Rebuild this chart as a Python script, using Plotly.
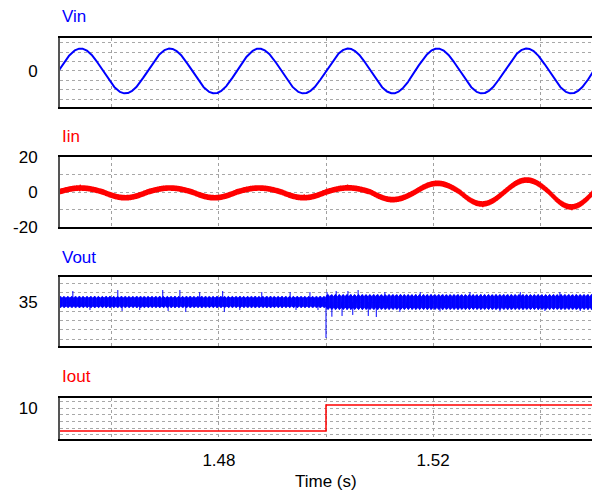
import numpy as np
import plotly.graph_objects as go
from plotly.subplots import make_subplots

# ---------------- data ----------------
T_START, T_END = 1.45, 1.55
T_RANGE = [1.4503, 1.5497]
X_GRID = [1.46, 1.48, 1.50, 1.52, 1.54]
X_LABELS = ["", "1.48", "", "1.52", ""]

LINE_FREQ = 60.0          # Hz
VIN_PEAK = 120.0          # V
# Iin peak value of each line half-cycle (A), read left to right
IIN_HALF_PEAKS = [2.3, -3.3, 2.3, -3.3, 2.3, -3.3, 2.4, -4.4, 5.0, -6.9, 6.9, -8.6]
IIN_RIPPLE = 1.6          # A, half of the switching-ripple band
SWITCH_FREQ = 20000.0     # Hz

VOUT_NOM = 35.0
VOUT_BAND = [0.6, 0.8]    # V, half band before / after the load step
VOUT_BEAT_FREQ = 1400.0   # Hz, visible striping of the ripple band
VOUT_BEAT_DEPTH = 0.25
STEP_TIME = 1.50
IOUT_LEVELS = [6.6, 10.5]

SPIKE_T = [1.4527, 1.4559, 1.4611, 1.4619, 1.4652, 1.4695, 1.4705, 1.4727, 1.4738,
           1.4764, 1.4807, 1.4810, 1.4839, 1.4880, 1.4933, 1.4944, 1.4970, 1.4985,
           1.5000, 1.5002, 1.5011, 1.5019, 1.5030, 1.5041, 1.5050, 1.5060, 1.5079,
           1.5094, 1.5110, 1.5138, 1.5176, 1.5213, 1.5269, 1.5325, 1.5363, 1.5409,
           1.5437, 1.5475]
SPIKE_V = [36.18, 34.14, 36.29, 34.04, 34.14, 36.29, 34.04, 36.29, 33.93,
           36.07, 36.18, 33.93, 34.14, 36.07, 36.07, 34.14, 36.07, 34.14,
           31.14, 36.07, 33.42, 36.18, 33.50, 36.18, 33.61, 36.29, 33.50,
           33.39, 36.07, 33.93, 36.07, 34.04, 36.07, 34.04, 36.07, 34.04,
           36.07, 34.04]

VIN_GRID = [-150, -100, -50, 0, 50, 100, 150]
VIN_TEXT = ["", "", "", "0", "", "", ""]
IIN_GRID = [-20, -10, 0, 10, 20]
IIN_TEXT = ["-20", "", "0", "", "20"]
VOUT_GRID = [31, 32, 33, 34, 35, 36, 37]
VOUT_TEXT = ["", "", "", "", "35", "", ""]
IOUT_GRID = [6, 7, 8, 9, 10, 11]
IOUT_TEXT = ["", "", "", "", "10", ""]

# ---------------- waveforms ----------------
t_line = np.linspace(T_START, T_END, 3001)
vin = VIN_PEAK * np.sin(2 * np.pi * LINE_FREQ * (t_line - T_START))

n_sw = int(round((T_END - T_START) * SWITCH_FREQ * 2))
t_sw = T_START + np.arange(n_sw + 1) / (2 * SWITCH_FREQ)
alt = np.where(np.arange(n_sw + 1) % 2 == 0, 1.0, -1.0)

half_idx = np.clip(((t_sw - T_START) * 2 * LINE_FREQ).astype(int), 0, len(IIN_HALF_PEAKS) - 1)
amp = np.array(IIN_HALF_PEAKS)[half_idx]
iin = amp * np.abs(np.sin(2 * np.pi * LINE_FREQ * (t_sw - T_START))) + IIN_RIPPLE * alt

band = np.where(t_sw < STEP_TIME, VOUT_BAND[0], VOUT_BAND[1])
beat = 1 - VOUT_BEAT_DEPTH * 0.5 * (1 + np.cos(2 * np.pi * VOUT_BEAT_FREQ * (t_sw - T_START)))
vout = VOUT_NOM + band * beat * alt

sx, sy = [], []
for ts, vs in zip(SPIKE_T, SPIKE_V):
    sx += [ts, ts, None]
    sy += [VOUT_NOM, vs, None]

BLUE = "#0000ff"
RED = "#ff0000"
FONT = "Liberation Sans, Arial, sans-serif"

fig = make_subplots(rows=4, cols=1, shared_xaxes=False, vertical_spacing=0.0)

fig.add_trace(go.Scatter(x=t_line, y=vin, mode="lines", line=dict(color=BLUE, width=2)), row=1, col=1)
fig.add_trace(go.Scatter(x=t_sw, y=iin, mode="lines", line=dict(color=RED, width=1.2)), row=2, col=1)
fig.add_trace(go.Scatter(x=t_sw, y=vout, mode="lines", line=dict(color=BLUE, width=1)), row=3, col=1)
fig.add_trace(go.Scatter(x=sx, y=sy, mode="lines", line=dict(color=BLUE, width=1)), row=3, col=1)
fig.add_trace(go.Scatter(x=[T_START, STEP_TIME, T_END], y=[IOUT_LEVELS[0], IOUT_LEVELS[1], IOUT_LEVELS[1]],
                         mode="lines", line=dict(color=RED, width=1.5, shape="hv")), row=4, col=1)

H = 491.0
panels = [(37.7, 106.7), (157.3, 226.7), (277.3, 346.0), (397.7, 439.3)]
yspecs = [([-191, 178], VIN_GRID, VIN_TEXT),
          ([-20, 20], IIN_GRID, IIN_TEXT),
          ([30.27, 37.66], VOUT_GRID, VOUT_TEXT),
          ([5.35, 11.59], IOUT_GRID, IOUT_TEXT)]

for i, ((top, bot), (yr, yv, yt)) in enumerate(zip(panels, yspecs), start=1):
    fig.update_yaxes(row=i, col=1, domain=[1 - bot / H, 1 - top / H], range=yr,
                     tickmode="array", tickvals=yv, ticktext=yt, automargin=False,
                     showgrid=True, gridcolor="#a8a8a8", gridwidth=1, griddash="dot",
                     zeroline=False, showline=True, linecolor="#555555", linewidth=2,
                     mirror=False, ticks="", ticklabelstandoff=17,
                     tickfont=dict(family=FONT, size=17, color="black"))
    fig.update_xaxes(row=i, col=1, range=T_RANGE, tickmode="array", tickvals=X_GRID,
                     ticktext=X_LABELS, showticklabels=(i == 4), automargin=False,
                     showgrid=True, gridcolor="#a0a0a0", gridwidth=1, griddash="dot",
                     zeroline=False, showline=True, linecolor="black", linewidth=2,
                     mirror=True, ticks="", ticklabelstandoff=4,
                     tickfont=dict(family=FONT, size=17, color="black"))

titles = [("Vin", BLUE, 16.7), ("Iin", RED, 136.7), ("Vout", BLUE, 257.3), ("Iout", RED, 376.7)]
for text, col, ypx in titles:
    fig.add_annotation(text=text, xref="paper", yref="paper", x=0, y=1 - ypx / H,
                       xanchor="left", yanchor="middle", showarrow=False,
                       font=dict(family=FONT, size=17, color=col))
fig.add_annotation(text="Time (s)", xref="paper", yref="paper", x=0.5, y=1 - 481.7 / H,
                   xanchor="center", yanchor="middle", showarrow=False,
                   font=dict(family=FONT, size=17, color="black"))

fig.update_layout(width=592, height=491, margin=dict(l=60, r=0, t=0, b=0, pad=0, autoexpand=False),
                  paper_bgcolor="white", plot_bgcolor="white", showlegend=False)

fig.write_html("out.html")
